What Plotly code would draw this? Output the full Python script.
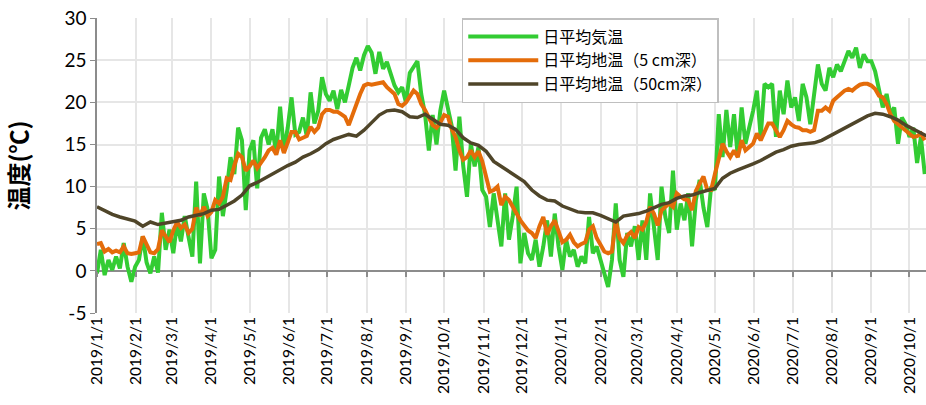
import pandas as pd
import plotly.graph_objects as go

# daily mean air temperature, read every 3 days from 2019/1/1
air_temp = [
    -0.3, 2.5, -0.5, 1.3, 0.1, 1.7, 0.3, 3.3, 0.5, -1.3, 0.5, 1.3, 4.1, 1.0, -0.3, 1.7, -0.2,
    6.9, 2.5, 4.9, 2.1, 5.7, 3.5, 6.5, 4.0, 1.7, 10.6, 0.9, 9.2, 7.3, 1.5, 2.5, 11.2, 6.5,
    9.6, 13.5, 11.5, 17.0, 15.5, 7.2, 14.3, 15.5, 9.8, 15.8, 16.8, 15.0, 16.8, 14.0, 19.5,
    14.2, 17.0, 20.6, 16.2, 16.5, 18.2, 16.0, 21.2, 17.5, 19.0, 23.0, 21.0, 20.2, 21.4,
    19.2, 21.5, 20.0, 22.0, 24.1, 25.3, 23.8, 25.6, 26.7, 25.9, 23.4, 26.0, 24.0, 24.8,
    23.2, 22.0, 21.2, 21.8, 20.0, 23.5, 24.2, 24.9, 21.0, 18.6, 14.3, 18.5, 15.0, 19.0,
    21.4, 19.0, 17.2, 11.9, 18.3, 12.5, 8.8, 15.1, 12.4, 14.7, 9.6, 8.8, 5.2, 9.2, 6.0,
    2.9, 9.2, 3.7, 6.5, 10.0, 0.9, 4.5, 2.1, 1.3, 3.7, 0.5, 2.9, 6.0, 1.7, 6.8, 2.9, 0.1,
    3.7, 1.7, 2.5, 0.5, 1.7, 0.9, 6.4, 2.1, 2.9, 1.3, -0.5, -1.9, 1.3, 8.0, 1.3, -0.7, 4.5,
    2.9, 5.3, 1.3, 6.0, 1.3, 9.2, 4.9, 1.3, 10.0, 6.4, 4.5, 11.9, 4.9, 8.0, 6.0, 9.2, 2.9,
    8.4, 10.8, 7.5, 5.2, 10.0, 9.6, 18.6, 13.5, 19.1, 14.7, 18.6, 13.5, 19.4, 15.1, 17.0,
    19.0, 21.4, 15.9, 22.2, 21.8, 22.2, 15.9, 21.4, 18.6, 22.6, 19.4, 20.6, 17.8, 22.2,
    20.6, 17.4, 21.4, 24.5, 22.2, 21.4, 24.1, 23.0, 24.5, 23.7, 24.9, 26.1, 25.3, 26.5,
    24.1, 25.7, 24.9, 24.9, 23.7, 21.8, 19.4, 21.0, 18.6, 19.4, 15.1, 18.2, 17.4, 15.9,
    17.0, 12.8, 15.9, 11.5,
]

# daily mean soil temperature at 5 cm, same dates
soil_5cm = [
    3.2, 3.3, 2.3, 2.6, 2.2, 2.4, 2.2, 2.9, 2.1, 2.0, 2.1, 2.2, 4.1, 3.0, 2.2, 2.1, 2.6,
    4.8, 4.0, 3.4, 4.8, 5.8, 5.1, 5.5, 4.5, 5.0, 7.5, 6.5, 7.6, 6.5, 7.0, 8.4, 8.0, 8.8,
    11.0, 10.8, 12.5, 13.9, 13.5, 11.9, 12.4, 13.1, 12.2, 12.8, 13.5, 14.3, 14.6, 13.8,
    15.5, 14.0, 15.4, 16.5, 16.5, 15.6, 15.8, 16.0, 17.1, 16.5, 17.0, 18.6, 19.1, 19.1,
    18.9, 18.9, 18.6, 18.3, 17.3, 18.6, 19.8, 21.0, 22.0, 22.2, 22.1, 22.2, 22.3, 22.4,
    21.8, 21.4, 21.0, 19.8, 19.6, 20.0, 20.8, 21.4, 21.0, 19.8, 19.1, 18.2, 17.3, 17.0,
    17.6, 18.5, 18.3, 16.8, 15.9, 14.3, 13.2, 13.5, 14.3, 13.5, 14.2, 13.0, 11.2, 9.4,
    9.6, 10.0, 7.8, 8.8, 8.4, 7.5, 6.8, 6.0, 5.4, 4.8, 4.5, 3.9, 5.3, 6.4, 4.3, 5.3, 6.0,
    4.5, 3.4, 3.7, 4.3, 3.4, 2.9, 3.2, 3.4, 4.9, 5.3, 3.9, 3.0, 2.3, 2.1, 2.3, 6.0, 3.9,
    3.3, 4.2, 4.6, 3.9, 5.2, 4.9, 5.8, 7.6, 6.8, 5.4, 7.2, 7.6, 8.0, 7.6, 9.2, 8.8, 8.5,
    8.4, 7.2, 9.5, 10.4, 11.2, 9.6, 9.6, 11.5, 13.5, 15.1, 14.2, 13.5, 14.3, 13.5, 15.5,
    14.3, 14.7, 15.1, 16.3, 15.5, 16.5, 17.5, 17.5, 16.7, 15.9, 16.7, 17.8, 17.4, 17.1,
    17.0, 16.7, 16.7, 16.5, 16.7, 19.0, 19.0, 19.4, 19.0, 20.2, 20.6, 21.0, 21.4, 21.6,
    21.4, 21.8, 22.1, 22.2, 22.2, 22.0, 21.6, 20.8, 20.6, 19.8, 18.6, 17.8, 17.4, 17.0,
    16.6, 16.3, 15.9, 16.0, 16.3, 15.5,
]

# daily mean soil temperature at 50 cm, read every 6 days
soil_50cm = [
    7.6, 7.1, 6.7, 6.4, 6.1, 5.9, 5.3, 5.8, 5.5, 5.7, 5.9, 6.0, 6.4, 6.6, 6.8, 7.2, 7.3,
    7.8, 8.3, 9.0, 10.1, 10.5, 11.0, 11.6, 12.1, 12.5, 12.9, 13.5, 13.9, 14.4, 15.1, 15.6,
    15.9, 16.2, 16.0, 16.7, 17.6, 18.5, 19.0, 19.1, 18.9, 18.3, 18.2, 18.6, 18.0, 17.4,
    17.3, 16.8, 15.8, 15.2, 14.9, 14.2, 13.0, 12.4, 11.8, 11.2, 10.6, 9.6, 8.9, 8.4, 8.3,
    7.7, 7.3, 7.0, 6.9, 6.9, 6.6, 6.2, 5.8, 6.5, 6.6, 6.8, 7.1, 7.5, 7.9, 8.1, 8.6, 8.9,
    9.0, 9.3, 9.5, 9.8, 11.0, 11.6, 12.0, 12.3, 12.7, 13.1, 13.6, 14.1, 14.4, 14.8, 15.0,
    15.1, 15.2, 15.5, 16.0, 16.5, 17.0, 17.5, 18.0, 18.4, 18.7, 18.6, 18.3, 17.9, 17.3,
    16.8, 16.3, 15.9,
]

names = ["日平均気温", "日平均地温（5 cm深）", "日平均地温（50cm深）"]
colors = ["#33CC33", "#E46C0A", "#4F4529"]

y_ticks = [-5, 0, 5, 10, 15, 20, 25, 30]
y_labels = [str(v) for v in y_ticks]

dates_3d = pd.date_range("2019-01-01", periods=len(air_temp), freq="3D")
dates_6d = pd.date_range("2019-01-01", periods=len(soil_50cm), freq="6D")

month_ticks = pd.date_range("2019-01-01", "2020-10-01", freq="MS")
month_labels = [f"{d.year}/{d.month}/1" for d in month_ticks]

fig = go.Figure()
fig.add_trace(go.Scatter(x=dates_3d, y=air_temp, name=names[0], mode="lines",
                         line=dict(color=colors[0], width=4)))
fig.add_trace(go.Scatter(x=dates_3d, y=soil_5cm, name=names[1], mode="lines",
                         line=dict(color=colors[1], width=4)))
fig.add_trace(go.Scatter(x=dates_6d, y=soil_50cm, name=names[2], mode="lines",
                         line=dict(color=colors[2], width=3.5), xaxis="x2"))

x_range = ["2019-01-01", "2020-10-14"]
fig.update_layout(
    width=926,
    height=405,
    template="plotly_white",
    font=dict(family="Lato, 'Noto Sans CJK JP', sans-serif", color="black"),
    margin=dict(l=97, r=0, t=18, b=92),
    xaxis=dict(
        range=x_range,
        tickvals=month_ticks,
        ticktext=month_labels,
        tickangle=-90,
        tickfont=dict(size=15.5),
        showgrid=True,
        gridcolor="#e6e6e6",
        gridwidth=1.5,
        showline=False,
        ticks="",
        zeroline=False,
        automargin=False,
    ),
    # second x axis only used to draw month ticks on the 0 line
    xaxis2=dict(
        matches="x",
        overlaying="x",
        anchor="free",
        position=1 / 7,
        tickvals=month_ticks,
        ticks="outside",
        ticklen=5,
        tickwidth=1.5,
        tickcolor="#8c8c8c",
        showticklabels=False,
        showgrid=False,
        showline=False,
        zeroline=False,
        automargin=False,
    ),
    yaxis=dict(
        range=[-5, 30.02],
        tickvals=y_ticks,
        ticktext=y_labels,
        tickfont=dict(size=19),
        ticklabeloverflow="allow",
        title=dict(text="<b>温度(℃)</b>", font=dict(size=24, family="Noto Sans CJK JP"),
                   standoff=42),
        showgrid=True,
        gridcolor="#e6e6e6",
        gridwidth=1.5,
        showline=True,
        linecolor="#8c8c8c",
        linewidth=1.5,
        ticks="outside",
        ticklen=5,
        tickcolor="#8c8c8c",
        zeroline=True,
        zerolinecolor="#8c8c8c",
        zerolinewidth=1.5,
        automargin=False,
    ),
    legend=dict(
        x=0.44, y=1.0, xanchor="left", yanchor="top",
        bgcolor="white",
        bordercolor="#bfbfbf",
        borderwidth=1.5,
        font=dict(size=16, family="Noto Sans CJK JP"),
        tracegroupgap=0,
        itemwidth=70,
    ),
)

# drop the default page margin so the figure sits at the window's corner
fig.write_html("out.html", config={"displayModeBar": False},
               post_script="document.body.style.margin = '0';")
